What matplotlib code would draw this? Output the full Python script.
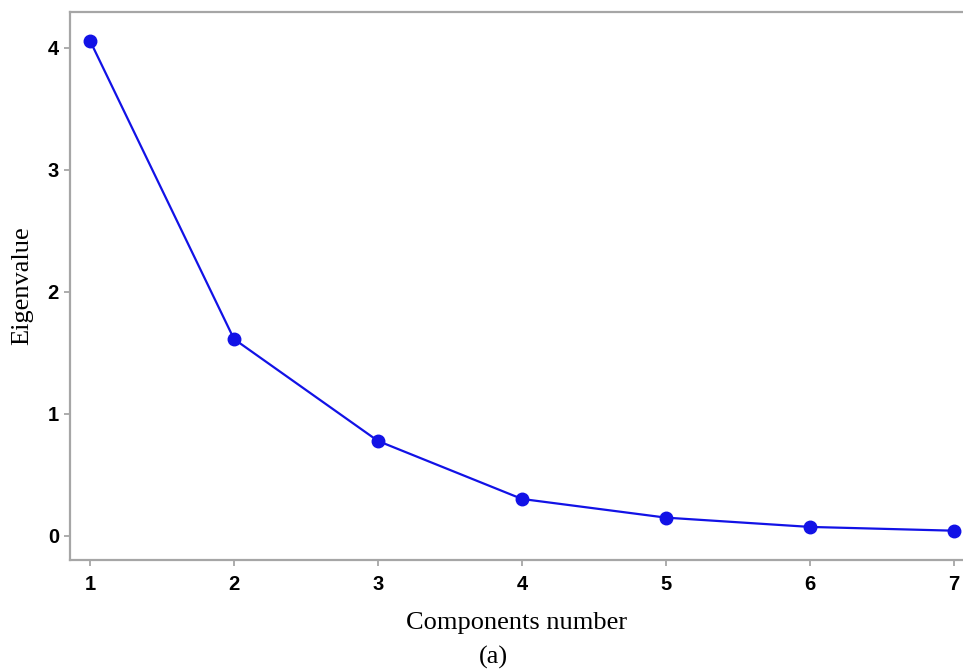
import matplotlib
matplotlib.use("Agg")
import matplotlib.pyplot as plt

components = [1, 2, 3, 4, 5, 6, 7]
eigenvalues = [4.057, 1.613, 0.778, 0.303, 0.150, 0.074, 0.043]
xticks = [1, 2, 3, 4, 5, 6, 7]
yticks = [0, 1, 2, 3, 4]

fig = plt.figure(figsize=(9.63, 6.71), dpi=100)
ax = fig.add_axes([70/963, 111/671, 1 - 70/963, (560-12)/671])

ax.plot(components, eigenvalues, color='#1212e6', lw=1.6, marker='o',
        markersize=9, markerfacecolor='#1212e6', markeredgecolor='#1212e6')

ax.set_xlim(0.861, 7.063)
ax.set_ylim(-0.197, 4.292)
ax.set_xticks(xticks)
ax.set_yticks(yticks)
ax.set_xticklabels([str(t) for t in xticks], fontfamily='Liberation Sans', fontweight='bold', fontsize=14.5)
ax.set_yticklabels([str(t) for t in yticks], fontfamily='Liberation Sans', fontweight='bold', fontsize=14.5)
ax.tick_params(direction='out', length=4.5, width=1.3, color='#a6a6a6')
ax.tick_params(axis='x', pad=6)
ax.tick_params(axis='y', pad=3.5)

for s in ['left', 'bottom', 'top']:
    ax.spines[s].set_color('#a6a6a6')
    ax.spines[s].set_linewidth(1.6)
ax.spines['right'].set_visible(False)

fig.text(517/963, 1 - 623/671, 'Components number', ha='center', va='center',
         fontfamily='Liberation Serif', fontsize=19)
fig.text(493/963, 1 - 657/671, '(a)', ha='center', va='center',
         fontfamily='Liberation Serif', fontsize=19)
fig.text(22/963, 1 - 286/671, 'Eigenvalue', ha='center', va='center', rotation=90,
         fontfamily='Liberation Serif', fontsize=19)

fig.savefig('out.png', dpi=100)
